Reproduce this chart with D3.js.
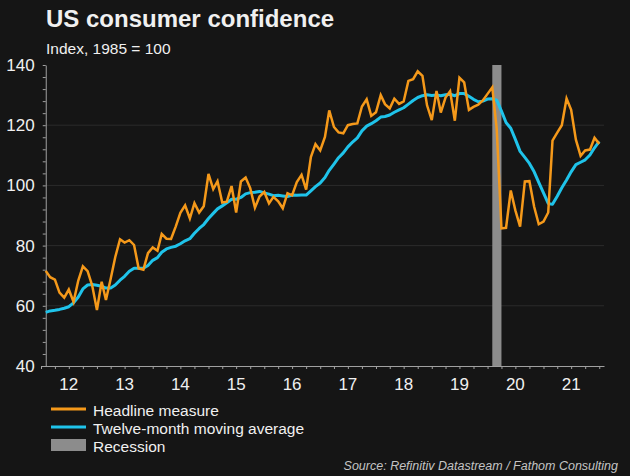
<!DOCTYPE html>
<html><head><meta charset="utf-8">
<script src="https://cdn.jsdelivr.net/npm/d3@7"></script>
<style>
html,body{margin:0;padding:0;background:#151515;}
svg{display:block;font-family:"Liberation Sans",Arial,sans-serif;}
</style></head><body>
<svg id="chart" width="630" height="476"></svg>
<script>
// ---------- data ----------
const firstMonth = "2012-02";
const headline = [
  71.6, 69.5, 68.7, 64.4, 62.7, 65.4, 61.3, 68.4, 73.1, 71.5, 66.7,
  58.6, 68.0, 61.9, 69.0, 76.2, 82.1, 81.0, 81.8, 80.2, 72.4, 72.0, 77.5,
  79.4, 78.3, 83.9, 82.3, 82.2, 86.4, 90.9, 93.4, 89.0, 94.1, 91.0, 93.1,
  103.8, 98.8, 101.4, 94.3, 94.6, 99.8, 91.0, 101.3, 102.6, 99.1, 92.6, 96.3,
  97.8, 94.0, 96.2, 94.7, 92.4, 97.4, 96.7, 101.1, 103.5, 98.6, 109.4, 113.7,
  111.6, 116.1, 124.9, 119.4, 117.6, 117.3, 120.0, 120.4, 120.6, 126.2, 128.6, 123.1,
  124.3, 130.0, 127.0, 125.6, 128.8, 127.1, 127.9, 134.7, 135.3, 137.9, 136.4, 126.6,
  121.7, 131.4, 124.2, 129.2, 131.3, 121.5, 135.8, 134.2, 125.1, 126.1, 126.8, 128.2,
  130.4, 132.6, 118.8, 85.7, 85.9, 98.3, 91.7, 86.3, 101.3, 101.4, 92.9, 87.1,
  88.0, 91.0, 114.9, 117.5, 120.0, 128.9, 125.1, 115.2, 109.8, 111.6, 111.9, 115.8,
  113.8
];
const movingAverage = [
  57.8, 58.3, 58.5, 58.8, 59.2, 59.7, 61.0, 62.9, 65.6, 66.9, 67.1,
  66.8, 66.5, 65.9, 65.9, 66.9, 68.5, 69.8, 71.5, 72.5, 72.5, 72.5, 73.4,
  75.1, 76.0, 77.8, 78.9, 79.4, 79.8, 80.6, 81.6, 82.3, 84.1, 85.7, 87.0,
  89.0, 90.7, 92.2, 93.2, 94.2, 95.4, 95.4, 96.0, 97.2, 97.6, 97.7, 98.0,
  97.5, 97.1, 96.6, 96.7, 96.5, 96.3, 96.8, 96.7, 96.8, 96.8, 98.2, 99.6,
  100.8, 102.6, 105.0, 107.1, 109.2, 110.8, 112.8, 114.4, 115.8, 118.1, 119.7, 120.5,
  121.5, 122.7, 122.9, 123.4, 124.3, 125.1, 125.8, 127.0, 128.2, 129.2, 129.8, 130.1,
  129.9, 130.0, 129.8, 130.1, 130.3, 129.8, 130.5, 130.5, 129.6, 128.6, 127.8, 128.0,
  128.7, 128.8, 128.3, 124.7, 120.9, 119.0, 115.3, 111.3, 109.3, 107.3, 104.5, 101.0,
  97.5, 94.0, 93.7, 96.4, 99.2, 101.8, 104.5, 106.9, 107.7, 108.5, 110.1, 112.5,
  114.6
];
const yTickValues = [40, 60, 80, 100, 120, 140];
const gridValues = [60, 80, 100, 120];
const yearLabels = ["12", "13", "14", "15", "16", "17", "18", "19", "20", "21"];
const recession = ["2020-02", "2020-04"];
const legendLabels = ["Headline measure", "Twelve-month moving average", "Recession"];
const titleText = "US consumer confidence";
const subtitleText = "Index, 1985 = 100";
const sourceText = "Source: Refinitiv Datastream / Fathom Consulting";

// ---------- styling ----------
const C = {
  bg: "#151515", text: "#f0f0f0", axis: "#a0a0a0", grid: "#2b2b2b",
  orange: "#f5991a", cyan: "#1fc3ea", rec: "#8c8c8c", source: "#c4c4c4"
};

const parse = d3.timeParse("%Y-%m");
const start = parse(firstMonth);
const dates = headline.map((_, i) => d3.timeMonth.offset(start, i));

const svg = d3.select("#chart");
svg.append("rect").attr("width", 630).attr("height", 476).attr("fill", C.bg);

const x = d3.scaleTime()
  .domain([new Date(2012, 0, 1), new Date(2022, 1, 1)])
  .range([41, 604]);
const y = d3.scaleLinear().domain([40, 140]).range([366, 65]);
const yAxisX = x(start);

// grid
svg.append("g").selectAll("line").data(gridValues).join("line")
  .attr("x1", yAxisX).attr("x2", 604)
  .attr("y1", d => y(d)).attr("y2", d => y(d))
  .attr("stroke", C.grid).attr("stroke-width", 1);

// recession bar
svg.append("rect")
  .attr("x", x(parse(recession[0])))
  .attr("width", x(parse(recession[1])) - x(parse(recession[0])))
  .attr("y", y(140)).attr("height", y(40) - y(140))
  .attr("fill", C.rec);

// y axis
const yAxis = svg.append("g").attr("transform", `translate(${yAxisX},0)`)
  .call(d3.axisLeft(y).tickValues(d3.range(40, 141, 4)).tickSize(3).tickSizeOuter(0)
    .tickPadding(8).tickFormat(d => yTickValues.includes(d) ? d : ""));
yAxis.selectAll("path,line").attr("stroke", C.axis);
yAxis.selectAll("text").attr("fill", C.text).attr("font-size", 17)
  .attr("font-family", '"Liberation Sans",Arial,sans-serif');

// x axis
const xAxis = svg.append("g").attr("transform", `translate(0,${y(40)})`)
  .call(d3.axisBottom(x).ticks(d3.timeMonth.every(3)).tickSize(3).tickSizeOuter(0).tickFormat(""));
xAxis.selectAll("path,line").attr("stroke", C.axis);

svg.append("g").selectAll("text").data(yearLabels).join("text")
  .attr("x", d => x(new Date(2000 + (+d), 6, 1)))
  .attr("y", 390)
  .attr("text-anchor", "middle")
  .attr("fill", C.text).attr("font-size", 17)
  .text(d => d);

// lines
const line = d3.line().x((d, i) => x(dates[i])).y(d => y(d));
svg.append("path").datum(movingAverage).attr("d", line)
  .attr("fill", "none").attr("stroke", C.cyan).attr("stroke-width", 3)
  .attr("stroke-linejoin", "round");
svg.append("path").datum(headline).attr("d", line)
  .attr("fill", "none").attr("stroke", C.orange).attr("stroke-width", 2.5)
  .attr("stroke-linejoin", "miter");

// titles
svg.append("text").attr("x", 46).attr("y", 27).attr("fill", C.text)
  .attr("font-size", 24).attr("font-weight", "bold").text(titleText);
svg.append("text").attr("x", 46).attr("y", 53.5).attr("fill", C.text)
  .attr("font-size", 15.5).text(subtitleText);

// legend
const lg = svg.append("g");
const legendRows = [
  { type: "line", color: C.orange, yc: 409, base: 415.5 },
  { type: "line", color: C.cyan, yc: 427, base: 433.5 },
  { type: "rect", color: C.rec, yc: 445, base: 451.5 }
];
legendRows.forEach((r, i) => {
  if (r.type === "line") {
    lg.append("line").attr("x1", 51).attr("x2", 86).attr("y1", r.yc).attr("y2", r.yc)
      .attr("stroke", r.color).attr("stroke-width", 3);
  } else {
    lg.append("rect").attr("x", 51).attr("y", r.yc - 6).attr("width", 35).attr("height", 12)
      .attr("fill", r.color);
  }
  lg.append("text").attr("x", 93).attr("y", r.base).attr("fill", C.text)
    .attr("font-size", 15.5).text(legendLabels[i]);
});

// source
svg.append("text").attr("x", 618).attr("y", 470).attr("text-anchor", "end")
  .attr("fill", C.source).attr("font-size", 12.5).attr("font-style", "italic")
  .text(sourceText);
</script>
</body></html>
